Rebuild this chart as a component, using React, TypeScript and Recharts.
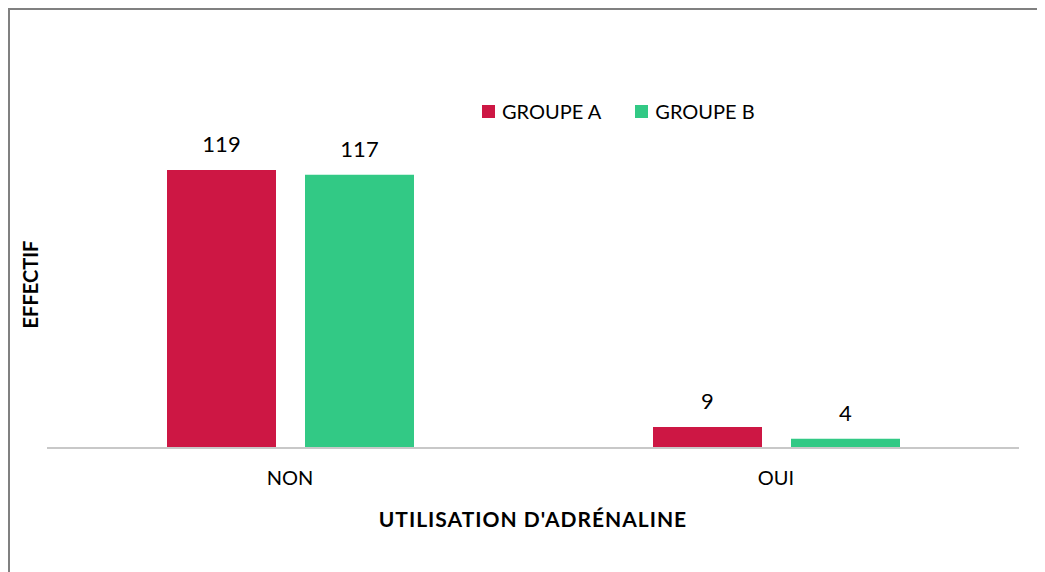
import { BarChart, Bar, XAxis, YAxis, LabelList, Legend, Label } from "recharts";

const categories = ["NON", "OUI"];
const groupeA = [119, 9];
const groupeB = [117, 4];
const seriesNames = ["GROUPE A", "GROUPE B"];
const colors = ["#CD1744", "#32C985"];

const data = categories.map((cat, i) => ({
  cat,
  a: groupeA[i],
  b: groupeB[i]
}));

const FONT = "Lato, 'Open Sans', sans-serif";

const LegendBox = () => (
  <div style={{ display: "flex", fontFamily: FONT, fontSize: 20, color: "#000" }}>
    {seriesNames.map((name, i) => (
      <div key={name} style={{ display: "flex", alignItems: "center", marginRight: 34 }}>
        <span style={{ width: 13, height: 13, background: colors[i], marginRight: 7 }} />
        <span>{name}</span>
      </div>
    ))}
  </div>
);

export default function App() {
  return (
    <div
      style={{
        width: 1100,
        height: 600,
        borderTop: "2px solid #808080",
        borderLeft: "2px solid #808080",
        fontFamily: FONT
      }}
    >
      <BarChart
        width={1100}
        height={600}
        data={data}
        margin={{ top: 111, right: 91, bottom: 102, left: 0 }}
        barSize={109}
        barGap={29}
      >
        <XAxis
          dataKey="cat"
          height={60}
          axisLine={{ stroke: "#c8c8c8", strokeWidth: 2 }}
          tickLine={false}
          tickMargin={17}
          tick={{ fill: "#000", fontSize: 20, fontFamily: FONT }}
        >
          <Label
            value="UTILISATION D'ADRÉNALINE"
            position="bottom"
            offset={4}
            style={{ fill: "#000", fontSize: 21, fontWeight: 700, fontFamily: FONT, letterSpacing: 1 }}
          />
        </XAxis>
        <YAxis width={37} domain={[0, 140]} tick={false} axisLine={false} tickLine={false}>
          <Label
            value="EFFECTIF"
            angle={-90}
            position="center"
            dx={2}
            style={{ fill: "#000", fontSize: 20, fontWeight: 700, fontFamily: FONT }}
          />
        </YAxis>
        <Legend
          verticalAlign="middle"
          layout="horizontal"
          content={<LegendBox />}
          wrapperStyle={{ top: 89, left: 472, width: "auto" }}
        />
        <Bar dataKey="a" name={seriesNames[0]} fill={colors[0]} isAnimationActive={false}>
          <LabelList dataKey="a" position="top" offset={18} fill="#000" fontSize={22} fontFamily={FONT} />
        </Bar>
        <Bar dataKey="b" name={seriesNames[1]} fill={colors[1]} isAnimationActive={false}>
          <LabelList dataKey="b" position="top" offset={18} fill="#000" fontSize={22} fontFamily={FONT} />
        </Bar>
      </BarChart>
    </div>
  );
}
